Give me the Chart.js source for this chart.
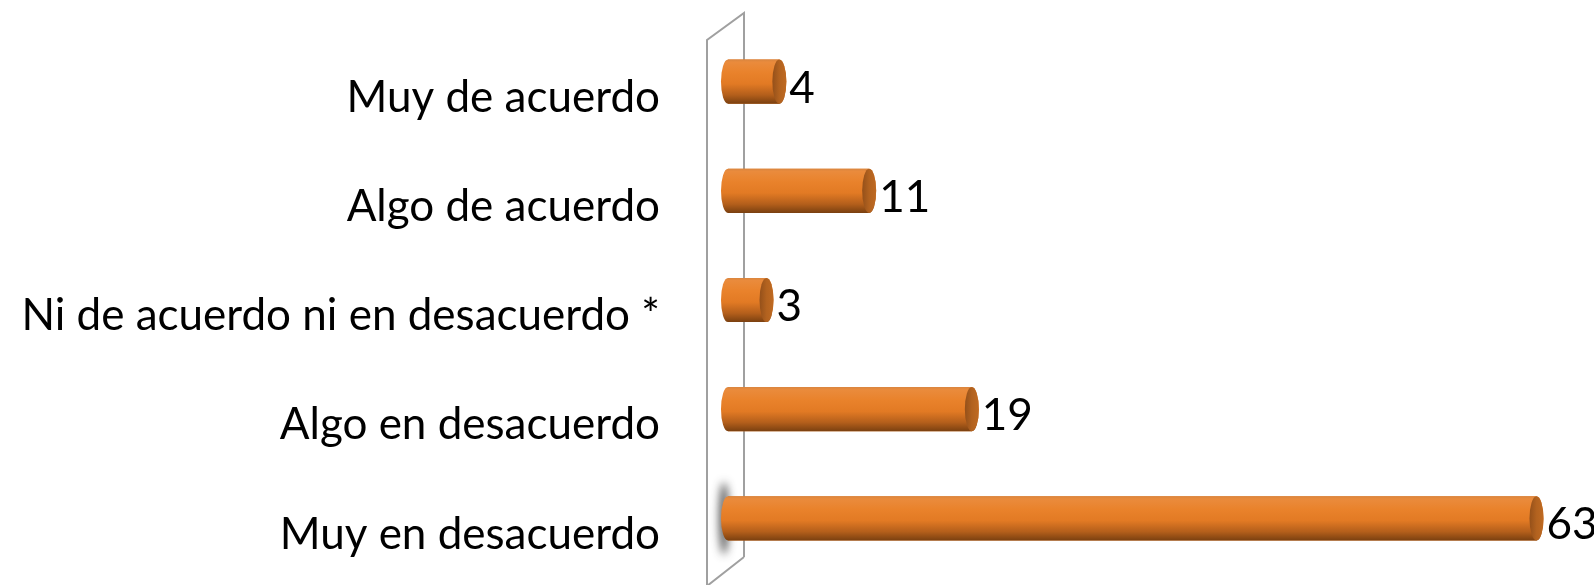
<!DOCTYPE html>
<html>
<head>
<meta charset="utf-8">
<script src="https://cdn.jsdelivr.net/npm/chart.js@4"></script>
<style>
html,body{margin:0;padding:0;background:#fff;}
#wrap{width:1594px;height:585px;position:relative;}
</style>
</head>
<body>
<div id="wrap"><canvas id="c" width="1594" height="585"></canvas></div>
<script>
const categories = ["Muy de acuerdo", "Algo de acuerdo", "Ni de acuerdo ni en desacuerdo *", "Algo en desacuerdo", "Muy en desacuerdo"];
const values = [4, 11, 3, 19, 63];
const valueLabels = ["4", "11", "3", "19", "63"];

const FONT = "Lato, 'Open Sans', 'Noto Sans', sans-serif";

const wallPlugin = {
  id: 'wall',
  beforeDatasetsDraw(chart) {
    const {ctx} = chart;
    const x0 = chart.scales.x.getPixelForValue(0);
    const xr = x0 + 16, xl = x0 - 21;
    const top = 13, bottom = 557, depth = 27;
    ctx.save();
    ctx.strokeStyle = '#a0a0a0';
    ctx.lineWidth = 2;
    ctx.beginPath();
    ctx.moveTo(xr, bottom);
    ctx.lineTo(xr, top);
    ctx.lineTo(xl, top + depth);
    ctx.lineTo(xl, bottom + depth + 2);
    ctx.lineTo(xr, bottom);
    ctx.stroke();
    // soft shadow of the longest bar's base on the wall
    const meta = chart.getDatasetMeta(0);
    const last = meta.data[meta.data.length - 1];
    if (last) {
      const p = last.getProps(['y', 'base', 'height'], true);
      const off = 2000;
      ctx.shadowColor = 'rgba(60,60,60,0.85)';
      ctx.shadowBlur = 9;
      ctx.shadowOffsetX = off;
      ctx.fillStyle = '#000';
      ctx.beginPath();
      ctx.ellipse(p.base - 4 - off, p.y, 5, p.height / 2 + 14, 0, 0, Math.PI * 2);
      ctx.fill();
    }
    ctx.restore();
  }
};

const cylPlugin = {
  id: 'cyl',
  afterDatasetsDraw(chart) {
    const {ctx} = chart;
    const meta = chart.getDatasetMeta(0);
    ctx.save();
    meta.data.forEach((el, i) => {
      const p = el.getProps(['x', 'y', 'base', 'height'], true);
      const h = p.height, top = p.y - h / 2, bot = p.y + h / 2;
      const rx = 7, ry = h / 2;
      const g = ctx.createLinearGradient(0, top, 0, bot);
      g.addColorStop(0, '#d9853f');
      g.addColorStop(0.06, '#ea8b3c');
      g.addColorStop(0.3, '#e9822b');
      g.addColorStop(0.55, '#e27a24');
      g.addColorStop(0.8, '#b45f1b');
      g.addColorStop(1, '#7a4010');
      ctx.fillStyle = g;
      ctx.beginPath();
      ctx.ellipse(p.base, p.y, rx, ry, 0, Math.PI / 2, Math.PI * 1.5);
      ctx.lineTo(p.x, top);
      ctx.ellipse(p.x, p.y, rx, ry, 0, -Math.PI / 2, Math.PI / 2);
      ctx.lineTo(p.base, bot);
      ctx.closePath();
      ctx.fill();
      const g2 = ctx.createLinearGradient(p.x - rx, 0, p.x + rx, 0);
      g2.addColorStop(0, '#94501a');
      g2.addColorStop(0.5, '#b2621f');
      g2.addColorStop(1, '#bf6a22');
      ctx.fillStyle = g2;
      ctx.beginPath();
      ctx.ellipse(p.x, p.y, rx, ry, 0, 0, Math.PI * 2);
      ctx.fill();
      ctx.fillStyle = '#000';
      ctx.font = '44px ' + FONT;
      ctx.textAlign = 'left';
      ctx.textBaseline = 'alphabetic';
      ctx.fillText(valueLabels[i], p.x + rx + 3, p.y + 21);
    });
    ctx.restore();
  }
};

new Chart(document.getElementById('c'), {
  type: 'bar',
  data: {
    labels: categories,
    datasets: [{
      data: values,
      backgroundColor: '#e37b25',
      borderWidth: 0,
      categoryPercentage: 1,
      barPercentage: 0.405
    }]
  },
  options: {
    indexAxis: 'y',
    responsive: false,
    animation: false,
    layout: { padding: { top: 27, bottom: 12, left: 0, right: 19 } },
    plugins: { legend: { display: false }, tooltip: { enabled: false } },
    scales: {
      x: { display: false, min: 0, max: 66 },
      y: {
        grid: { display: false, drawTicks: false },
        border: { display: false },
        ticks: {
          color: '#000',
          font: { size: 44, family: FONT },
          padding: 68,
          labelOffset: 16
        },
        afterFit(scale) {
          scale.width = 728;
          scale.paddingTop = 0;
          scale.paddingBottom = 0;
        }
      }
    }
  },
  plugins: [wallPlugin, cylPlugin]
});
</script>
</body>
</html>
